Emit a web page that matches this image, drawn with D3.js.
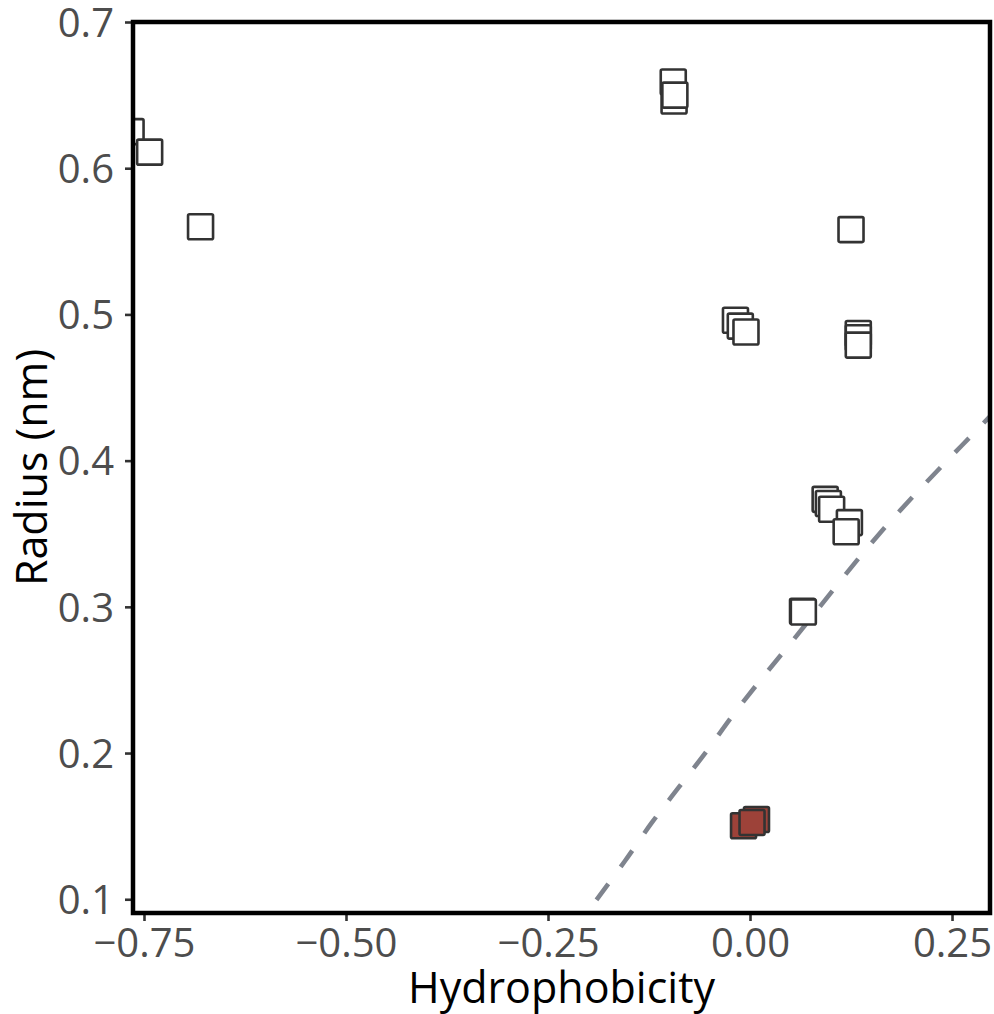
<!DOCTYPE html>
<html>
<head>
<meta charset="utf-8">
<script src="https://cdn.jsdelivr.net/npm/d3@7"></script>
<style>
  html, body { margin: 0; padding: 0; background: #fff; }
  svg { display: block; }
</style>
</head>
<body>
<svg id="chart" width="994" height="1014"></svg>
<script>
// ---- data ----
const xTicks = [-0.75, -0.50, -0.25, 0.00, 0.25];
const xTickLabels = ["\u22120.75", "\u22120.50", "\u22120.25", "0.00", "0.25"];
const yTicks = [0.1, 0.2, 0.3, 0.4, 0.5, 0.6, 0.7];
const yTickLabels = ["0.1", "0.2", "0.3", "0.4", "0.5", "0.6", "0.7"];

// hollow (white) squares, in drawing order
const openX = [-0.766, -0.743, -0.680, -0.095, -0.094, -0.093, 0.125, -0.018, -0.012, -0.005,
               0.134, 0.134, 0.134, 0.093, 0.097, 0.101, 0.123, 0.119, 0.065, 0.066];
const openY = [0.625, 0.611, 0.560, 0.659, 0.646, 0.650, 0.558, 0.496, 0.492, 0.488,
               0.487, 0.484, 0.479, 0.3735, 0.3707, 0.3667, 0.3576, 0.3514, 0.297, 0.2965];

// filled (red) squares, in drawing order
const filledX = [-0.008, 0.008, 0.0025];
const filledY = [0.1503, 0.1545, 0.1525];

// dashed reference curve
const curveX = [-0.190, -0.155, -0.122, -0.089, -0.054, -0.021, 0.0145, 0.050, 0.157, 0.289, 0.300];
const curveY = [0.0995, 0.126, 0.152, 0.176, 0.201, 0.226, 0.251, 0.275, 0.348, 0.4257, 0.432];

const xTitle = "Hydrophobicity";
const yTitle = "Radius (nm)";

// ---- layout ----
const panel = { left: 133, right: 990, top: 22, bottom: 913 };
const FONT = "'Open Sans', 'Noto Sans', sans-serif";

const x = d3.scaleLinear()
  .domain([-0.7636, 0.2970])
  .range([panel.left, panel.right]);
const y = d3.scaleLinear()
  .domain([0.0906, 0.7])
  .range([panel.bottom, panel.top]);

const svg = d3.select("#chart");

svg.append("defs").append("clipPath").attr("id", "clip")
  .append("rect")
  .attr("x", panel.left).attr("y", panel.top)
  .attr("width", panel.right - panel.left)
  .attr("height", panel.bottom - panel.top);

const plot = svg.append("g").attr("clip-path", "url(#clip)");

// dashed curve
const curveData = curveX.map((d, i) => [d, curveY[i]]);
plot.append("path")
  .datum(curveData)
  .attr("d", d3.line().x(d => x(d[0])).y(d => y(d[1])).curve(d3.curveMonotoneX))
  .attr("fill", "none")
  .attr("stroke", "#7f848e")
  .attr("stroke-width", 4.6)
  .attr("stroke-dasharray", "20,21");

const SIDE = 25;
function squares(xs, ys, fill) {
  plot.append("g").selectAll("rect")
    .data(xs.map((d, i) => [d, ys[i]]))
    .join("rect")
    .attr("x", d => x(d[0]) - SIDE / 2)
    .attr("y", d => y(d[1]) - SIDE / 2)
    .attr("width", SIDE)
    .attr("height", SIDE)
    .attr("rx", 1.5)
    .attr("fill", fill)
    .attr("stroke", "#333333")
    .attr("stroke-width", 2.6)
    .attr("stroke-linejoin", "round");
}
squares(openX, openY, "#ffffff");
squares(filledX, filledY, "#9d4239");

// axes
const xAxis = d3.axisBottom(x).tickValues(xTicks)
  .tickFormat((d, i) => xTickLabels[i]).tickSize(8).tickPadding(6);
const gx = svg.append("g").attr("transform", `translate(0,${panel.bottom})`).call(xAxis);
gx.select(".domain").remove();
gx.selectAll(".tick line").attr("stroke", "#333333").attr("stroke-width", 2.6);
gx.selectAll(".tick text")
  .attr("fill", "#4d4d4d")
  .attr("font-family", FONT)
  .attr("font-size", 40)
  .attr("dy", null)
  .attr("y", 44);

const yAxis = d3.axisLeft(y).tickValues(yTicks)
  .tickFormat((d, i) => yTickLabels[i]).tickSize(8).tickPadding(6);
const gy = svg.append("g").attr("transform", `translate(${panel.left},0)`).call(yAxis);
gy.select(".domain").remove();
gy.selectAll(".tick line").attr("stroke", "#333333").attr("stroke-width", 2.6);
gy.selectAll(".tick text")
  .attr("fill", "#4d4d4d")
  .attr("font-family", FONT)
  .attr("font-size", 40)
  .attr("x", -19)
  .attr("dy", "0.357em");

// panel border
svg.append("rect")
  .attr("x", panel.left).attr("y", panel.top)
  .attr("width", panel.right - panel.left)
  .attr("height", panel.bottom - panel.top)
  .attr("fill", "none")
  .attr("stroke", "#000")
  .attr("stroke-width", 4.5);

// titles
svg.append("text")
  .attr("x", (panel.left + panel.right) / 2)
  .attr("y", 1003)
  .attr("text-anchor", "middle")
  .attr("font-family", FONT)
  .attr("font-size", 43)
  .attr("fill", "#000")
  .text(xTitle);

svg.append("text")
  .attr("transform", `translate(47,${(panel.top + panel.bottom) / 2}) rotate(-90)`)
  .attr("text-anchor", "middle")
  .attr("font-family", FONT)
  .attr("font-size", 43)
  .attr("fill", "#000")
  .text(yTitle);
</script>
</body>
</html>
